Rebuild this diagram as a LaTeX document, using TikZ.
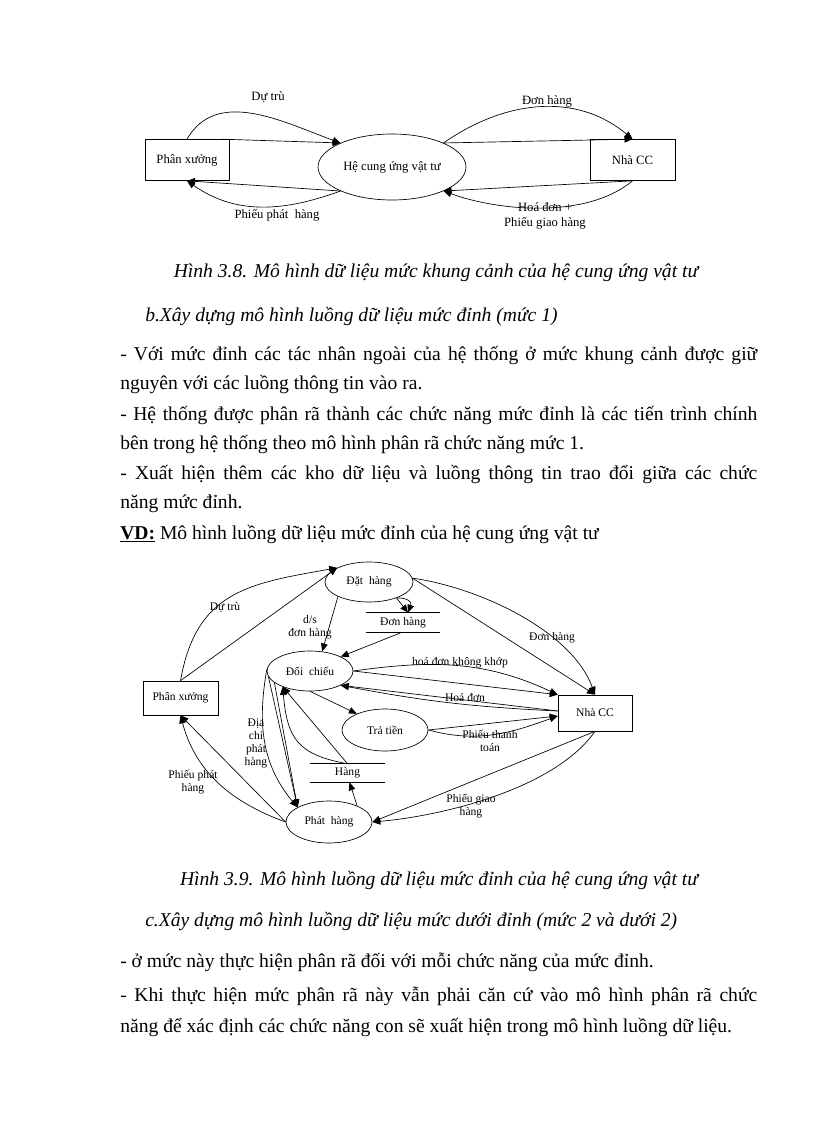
\documentclass[tikz,border=0pt]{standalone}
\usepackage{fontspec}
\setmainfont{Liberation Serif}
\usetikzlibrary{arrows.meta,shapes.geometric}
\tikzset{
  conn/.style={draw, line width=0.5pt},
  arr/.style={conn, -{Triangle[length=6pt,width=5pt]}},
  boxA/.style={draw, line width=0.5pt, rectangle, inner sep=0pt, font=\fontsize{9.5}{11.25}\selectfont},
  ellA/.style={draw, line width=0.5pt, ellipse, inner sep=0pt, font=\fontsize{9.5}{11.25}\selectfont},
  lblA/.style={inner sep=0pt, align=center, font=\fontsize{9.5}{11.25}\selectfont},
  boxB/.style={draw, line width=0.5pt, rectangle, inner sep=0pt, font=\fontsize{8.7}{9.75}\selectfont},
  ellB/.style={draw, line width=0.5pt, ellipse, inner sep=0pt, font=\fontsize{8.7}{9.75}\selectfont},
  storeB/.style={inner sep=0pt, font=\fontsize{8.7}{9.75}\selectfont},
  lblB/.style={inner sep=0pt, align=center, font=\fontsize{8.7}{9.75}\selectfont},
  body/.style={inner sep=0pt, anchor=base west, font=\fontsize{14.7}{17}\selectfont},
  capt/.style={inner sep=0pt, anchor=base, font=\fontsize{14.7}{17}\selectfont\itshape},
  head/.style={inner sep=0pt, anchor=base west, font=\fontsize{14.7}{17}\selectfont\itshape},
}
\newcommand{\jline}[1]{\makebox[477.75pt][s]{#1}}
\begin{document}
\begin{tikzpicture}[x=0.75pt, y=-0.75pt]
\path[use as bounding box, fill=white] (0,0) rectangle (816,1123);

% ---------- Figure 3.8 ----------
\node[boxA, minimum width=63pt, minimum height=30.75pt] (pxA) at (187,160) {Phân xưởng};
\node[ellA, minimum width=111pt, minimum height=49.5pt] (hc) at (392,167) {Hệ cung ứng vật tư};
\node[boxA, minimum width=63.75pt, minimum height=30.75pt] (ncA) at (632.5,160) {Nhà CC};

\draw[arr] (pxA.north) to[out=60,in=160] (hc.155);
\draw[arr] ([xshift=-6pt]pxA.north east) -- (hc.155);
\node[lblA] (lA1) at (268,97) {Dự trù};

\draw[arr] (hc.25) to[out=35,in=140] (ncA.north);
\draw[arr] (hc.25) -- (ncA.north);
\node[lblA] (lA2) at (547,101) {Đơn hàng};

\draw[arr] (hc.205) to[out=200,in=-35] (pxA.south);
\draw[arr] (hc.205) -- (pxA.south);
\node[lblA] (lA3) at (277,215) {Phiếu phát~~hàng};

\draw[arr] (ncA.south) to[out=-140,in=-20,looseness=0.8] (hc.335);
\draw[arr] (ncA.south) -- (hc.335);
\node[lblA] (lA4) at (545,215.5) {Hoá đơn +\\Phiếu giao hàng};

% ---------- Texts ----------
\node[capt] (c1) at (436,277) {Hình 3.8. Mô hình dữ liệu mức khung cảnh của hệ cung ứng vật tư};
\node[head] (h1) at (145,321) {b.Xây dựng mô hình luồng dữ liệu mức đỉnh (mức 1)};
\node[body] (t1) at (120,360) {\jline{- Với mức đỉnh các tác nhân ngoài của hệ thống ở mức khung cảnh được giữ}};
\node[body] (t2) at (120,389) {nguyên với các luồng thông tin vào ra.};
\node[body] (t3) at (120,420) {\jline{- Hệ thống được phân rã thành các chức năng mức đỉnh là các tiến trình chính}};
\node[body] (t4) at (120,449) {bên trong hệ thống theo mô hình phân rã chức năng mức 1.};
\node[body] (t5) at (120,479) {\jline{- Xuất hiện thêm các kho dữ liệu và luồng thông tin trao đổi giữa các chức}};
\node[body] (t6) at (120,508) {năng mức đỉnh.};
\node[body] (t7) at (120,539) {\underline{\textbf{VD:}} Mô hình luồng dữ liệu mức đỉnh của hệ cung ứng vật tư};

% ---------- Figure 3.9 ----------
\node[ellB, minimum width=66pt, minimum height=30pt] (dh) at (369,582) {Đặt~~hàng};
\node[storeB, minimum width=55.5pt, minimum height=14.25pt] (s1) at (403,622.5) {Đơn hàng};
\draw[conn] (s1.north west) -- (s1.north east) (s1.south west) -- (s1.south east);
\node[ellB, minimum width=64.5pt, minimum height=30pt] (dc) at (310,671) {Đối~~chiếu};
\node[ellB, minimum width=64.5pt, minimum height=31.5pt] (tt) at (385,730) {Trả tiền};
\node[storeB, minimum width=56.25pt, minimum height=13.5pt] (s2) at (347.5,773) {Hàng};
\draw[conn] (s2.north west) -- (s2.north east) (s2.south west) -- (s2.south east);
\node[ellB, minimum width=64.5pt, minimum height=31.5pt] (ph) at (329,822) {Phát~~hàng};
\node[boxB, minimum width=56pt, minimum height=25.5pt] (pxB) at (180.5,698) {Phân xưởng};
\node[boxB, minimum width=55.5pt, minimum height=27pt] (ncB) at (595,713) {Nhà CC};

% Dự trù
\draw[arr] (pxB.north) to[out=80,in=190,looseness=1.2] (dh.156);
\draw[arr] (pxB.north) -- (dh.156);
\node[lblB] (lB1) at (225,607) {Dự trù};
% d/s đơn hàng
\draw[arr] (dh.205) -- (dc.58);
\node[lblB] (lB2) at (310,627) {d/s\\đơn hàng};
% Đặt hàng -> Đơn hàng store
\draw[arr] (dh.-30) to[out=0,in=70,looseness=1.6] ([xshift=3.75pt]s1.north);
\draw[arr] (dh.-30) -- ([xshift=3.75pt]s1.north);
% Đơn hàng store -> Đối chiếu
\draw[arr] ([xshift=-0.75pt]s1.south) -- (dc.25);
% Đơn hàng -> Nhà CC
\draw[arr] (dh.5) to[out=-8,in=110,looseness=0.8] (ncB.north);
\draw[arr] (dh.5) -- (ncB.north);
\node[lblB] (lB3) at (552,638) {Đơn hàng};
% hoá đơn không khớp
\draw[arr] (dc.east) to[out=8,in=155] (ncB.north west);
\draw[arr] (dc.east) -- (ncB.north west);
\node[lblB] (lB4) at (460,663) {hoá đơn không khớp};
% Hoá đơn
\draw[arr] ([yshift=1.5pt]ncB.west) -- (dc.-25);
\draw[arr] ([yshift=1.5pt]ncB.west) to[bend left=4] (dc.-25);
\node[lblB] (lB5) at (465,698) {Hoá đơn};
% Đối chiếu -> Trả tiền
\draw[arr] (dc.south) -- (tt.150);
% Phiếu thanh toán
\draw[arr] (tt.east) -- ([yshift=-2.25pt]ncB.west);
\draw[arr] (tt.east) to[out=-15,in=200] ([yshift=-2.25pt]ncB.west);
\node[lblB] (lB6) at (490,740.5) {Phiếu thanh\\toán};
% Phiếu giao hàng
\draw[arr] (ncB.south) -- (ph.east);
\draw[arr] (ncB.south) to[out=-125,in=5,looseness=0.75] (ph.east);
\node[lblB] (lB7) at (471,806.5) {Phiếu giao\\hàng};
% Phát hàng -> Hàng
\draw[arr] (ph.30) -- ([xshift=1.5pt]s2.south);
% Phiếu phát hàng
\draw[arr] (ph.west) -- (pxB.south);
\draw[arr] (ph.west) to[out=160,in=-75] (pxB.south);
\node[lblB] (lB8) at (193,782) {Phiếu phát\\hàng};
% Địa chỉ phát hàng
\draw[arr] (dc.178) to[out=-100,in=130] (ph.155);
\draw[arr] (dc.188) -- (ph.155);
\draw[arr] (dc.198) -- (ph.155);
\node[lblB] (lB9) at (256,743) {Địa\\chỉ\\phát\\hàng};
% Hàng -> Đối chiếu
\draw[arr] (s2.north) -- (dc.210);
\draw[arr] (s2.north) to[out=170,in=-85,looseness=1.3] (dc.210);

% ---------- Texts ----------
\node[capt] (c2) at (439,885) {Hình 3.9. Mô hình luồng dữ liệu mức đỉnh của hệ cung ứng vật tư};
\node[head] (h2) at (145,926) {c.Xây dựng mô hình luồng dữ liệu mức dưới đỉnh (mức 2 và dưới 2)};
\node[body] (u1) at (120,967) {- ở mức này thực hiện phân rã đối với mỗi chức năng của mức đỉnh.};
\node[body] (u2) at (120,1001) {\jline{- Khi thực hiện mức phân rã này vẫn phải căn cứ vào mô hình phân rã chức}};
\node[body] (u3) at (120,1032) {năng để xác định các chức năng con sẽ xuất hiện trong mô hình luồng dữ liệu.};
\end{tikzpicture}
\end{document}
